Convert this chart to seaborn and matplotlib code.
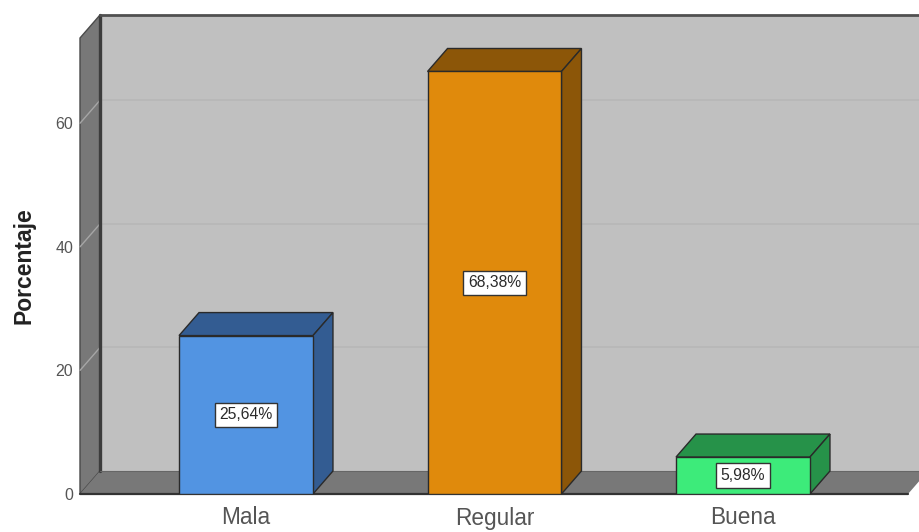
"""Barras pseudo-3D: porcentaje por categoria"""

import matplotlib
matplotlib.use("Agg")
import matplotlib.pyplot as plt
from matplotlib.patches import Polygon
import pandas as pd
import seaborn as sns

categories = ["Mala", "Regular", "Buena"]
values = [25.64, 68.38, 5.98]
bar_labels = ["25,64%", "68,38%", "5,98%"]
y_ticks = [0, 20, 40, 60]
front_colors = ["#5294E2", "#E08A0C", "#3DEB7A"]
side_colors = ["#335C92", "#8C5608", "#269249"]

W, H = 919, 532
LEFT, RIGHT, TOP, BOTTOM = 80, 908, 38, 494
XLIM = (-0.668, 2.664)
YLIM = (0, 73.8)
DX = 20 * (XLIM[1] - XLIM[0]) / (RIGHT - LEFT)   # profundidad en unidades de datos
DY = 23 * YLIM[1] / (BOTTOM - TOP)

sns.set_theme(style="white")
plt.rcParams["font.family"] = ["Liberation Sans", "DejaVu Sans"]

fig = plt.figure(figsize=(W / 100, H / 100), dpi=100)
ax = fig.add_axes([LEFT / W, 1 - BOTTOM / H, (RIGHT - LEFT) / W, (BOTTOM - TOP) / H])
ax.patch.set_visible(False)
sns.despine(ax=ax, left=True, bottom=True)

df = pd.DataFrame({"cat": categories, "pct": values})
sns.barplot(data=df, x="cat", y="pct", hue="cat", order=categories, hue_order=categories,
            palette=front_colors, width=0.539, saturation=1, legend=False, ax=ax,
            edgecolor="#2a2a2a", linewidth=1.0, zorder=5)
ax.set_xlim(*XLIM)
ax.set_ylim(*YLIM)


def face(points, color, z, edge="none", lw=0.0):
    ax.add_patch(Polygon(points, closed=True, facecolor=color, edgecolor=edge,
                         linewidth=lw, zorder=z, clip_on=False))


x0, x1 = XLIM
y1 = YLIM[1]
far = x1 + 3 * DX  # la pared sigue hasta el borde de la imagen

# paredes y suelo
face([(x0 + DX, DY), (far, DY), (far, y1 + DY), (x0 + DX, y1 + DY)], "#C0C0C0", 1)
face([(x0, 0), (x0 + DX, DY), (x0 + DX, y1 + DY), (x0, y1)], "#787878", 2, "#4a4a4a", 1.0)
face([(x0, 0), (x1, 0), (x1 + DX, DY), (far, DY), (x0 + DX, DY)], "#787878", 2)

ax.plot([x0 + DX, x0 + DX], [DY, y1 + DY], color="#3c3c3c", lw=2.4, zorder=3, clip_on=False)
ax.plot([x0 + DX, far], [y1 + DY, y1 + DY], color="#505050", lw=2.0, zorder=3, clip_on=False)
ax.plot([x0 + DX, far], [DY, DY], color="#666666", lw=0.8, zorder=3, clip_on=False)
ax.plot([x0, x1], [0, 0], color="#333333", lw=1.6, zorder=4, clip_on=False)

# rejilla
for t in y_ticks[1:]:
    ax.plot([x0 + DX, far], [t + DY, t + DY], color="#B8B8B8", lw=1.4, zorder=2.5, clip_on=False)
    ax.plot([x0, x0 + DX], [t, t + DY], color="#A6A6A6", lw=1.0, zorder=2.5, clip_on=False)

# caras superior y lateral de cada barra
for bar, side in zip(ax.patches[:len(categories)], side_colors):
    xa, w, h = bar.get_x(), bar.get_width(), bar.get_height()
    xb = xa + w
    face([(xa, h), (xb, h), (xb + DX, h + DY), (xa + DX, h + DY)], side, 4.5, "#2a2a2a", 1.0)
    face([(xb, 0), (xb + DX, DY), (xb + DX, h + DY), (xb, h)], side, 4.5, "#2a2a2a", 1.0)
    bar.set_zorder(5)

for bar, lab in zip(ax.patches[:len(categories)], bar_labels):
    ax.text(bar.get_x() + bar.get_width() / 2, bar.get_height() / 2, lab,
            ha="center", va="center", fontsize=11.3, color="#2a2a2a", zorder=7,
            bbox=dict(boxstyle="square,pad=0.3", facecolor="white",
                      edgecolor="#333333", linewidth=1.0))

ax.set_yticks(y_ticks)
ax.tick_params(axis="y", length=0, pad=5, labelsize=11.5, labelcolor="#555555")
ax.tick_params(axis="x", length=0, pad=9, labelsize=16.3, labelcolor="#555555")
ax.set_xlabel("")
ax.set_ylabel("Porcentaje", fontsize=16.5, fontweight="bold", color="#222222", labelpad=14)

fig.savefig("out.png", dpi=100)
